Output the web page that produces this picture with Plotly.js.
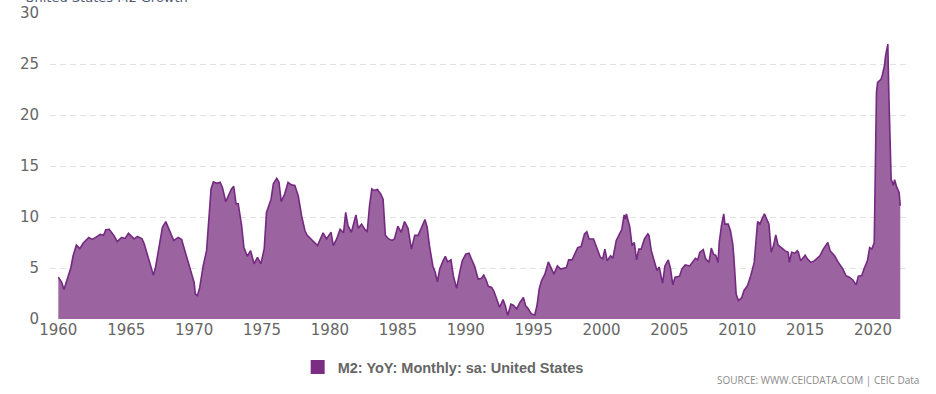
<!DOCTYPE html>
<html>
<head>
<meta charset="utf-8">
<script src="https://cdn.plot.ly/plotly-3.0.1.min.js"></script>
<style>
  html, body { margin: 0; padding: 0; background: #ffffff; }
  #chart { width: 936px; height: 394px; }
</style>
</head>
<body>
<div id="chart"></div>
<script>
// ---- Data ----
const seriesName = "M2: YoY: Monthly: sa: United States";
const chartTitle = "United States M2 Growth";
const sourceText = "SOURCE: WWW.CEICDATA.COM | CEIC Data";

const dates = [
  "1960-01","1960-04","1960-06","1960-10","1960-12","1961-02","1961-05","1961-08","1961-11",
  "1962-04","1962-07","1962-10","1963-02","1963-05","1963-07","1963-10","1964-02","1964-05",
  "1964-09","1964-12","1965-03","1965-08","1965-11","1966-03","1966-05","1966-08","1966-11",
  "1967-01","1967-03","1967-07","1967-09","1967-12","1968-03","1968-07","1968-11","1969-02",
  "1969-04","1969-07","1969-10","1970-01","1970-02","1970-04","1970-06","1970-09","1970-12",
  "1971-02","1971-04","1971-06","1971-09","1971-12","1972-02","1972-05","1972-07","1972-10",
  "1972-12","1973-02","1973-04","1973-07","1973-09","1973-12","1974-03","1974-06","1974-09",
  "1974-12","1975-03","1975-05","1975-09","1975-11","1976-02","1976-04","1976-06","1976-09",
  "1976-12","1977-03","1977-06","1977-09","1977-12","1978-03","1978-05","1978-08","1978-11",
  "1979-02","1979-04","1979-07","1979-10","1980-02","1980-04","1980-07","1980-10","1981-01",
  "1981-03","1981-05","1981-08","1981-10","1981-12","1982-02","1982-05","1982-08","1982-10",
  "1982-12","1983-02","1983-04","1983-07","1983-10","1983-12","1984-02","1984-05","1984-08",
  "1984-10","1985-01","1985-04","1985-07","1985-10","1986-01","1986-04","1986-07","1986-10",
  "1987-01","1987-03","1987-05","1987-08","1987-10","1987-12","1988-02","1988-05","1988-07",
  "1988-09","1988-12","1989-02","1989-05","1989-08","1989-10","1990-01","1990-04","1990-06",
  "1990-09","1990-12","1991-03","1991-05","1991-07","1991-09","1991-12","1992-02","1992-05",
  "1992-07","1992-10","1992-12","1993-02","1993-05","1993-07","1993-10","1994-01","1994-04",
  "1994-06","1994-08","1994-11","1995-02","1995-04","1995-06","1995-08","1995-11","1996-02",
  "1996-04","1996-07","1996-10","1997-01","1997-06","1997-08","1997-11","1998-01","1998-04",
  "1998-07","1998-10","1998-12","1999-02","1999-06","1999-09","1999-12","2000-02","2000-04",
  "2000-06","2000-09","2000-11","2001-02","2001-05","2001-07","2001-09","2001-10","2001-11",
  "2002-02","2002-04","2002-06","2002-08","2002-10","2002-12","2003-03","2003-06","2003-07",
  "2003-09","2003-12","2004-02","2004-04","2004-07","2004-09","2004-12","2005-02","2005-04",
  "2005-06","2005-10","2005-12","2006-03","2006-07","2006-10","2006-12","2007-02","2007-04",
  "2007-07","2007-09","2007-12","2008-02","2008-04","2008-06","2008-08","2008-09","2008-11",
  "2009-01","2009-02","2009-05","2009-07","2009-09","2009-10","2009-12","2010-02","2010-05",
  "2010-07","2010-10","2011-01","2011-04","2011-07","2011-09","2011-11","2012-01","2012-03",
  "2012-05","2012-07","2012-09","2012-11","2013-01","2013-04","2013-07","2013-10","2013-11",
  "2014-01","2014-04","2014-06","2014-07","2014-09","2015-01","2015-03","2015-06","2015-09",
  "2015-11","2016-02","2016-05","2016-08","2016-09","2016-11","2017-03","2017-06","2017-10",
  "2018-01","2018-04","2018-07","2018-10","2018-12","2019-03","2019-05","2019-08","2019-10",
  "2019-12","2020-02","2020-03","2020-04","2020-05","2020-08","2020-09","2020-11","2020-12",
  "2021-02","2021-03","2021-04","2021-05","2021-07","2021-08","2021-10","2021-12","2022-01"
];

const m2YoY = [
  4.1,3.6,2.9,4.2,5.0,6.2,7.25,6.9,7.45,
  8.0,7.8,8.0,8.3,8.2,8.75,8.8,8.2,7.6,
  8.0,7.9,8.4,7.85,8.1,7.85,7.35,6.2,4.9,
  4.3,5.1,8.0,9.0,9.55,8.8,7.7,8.0,7.8,
  7.0,5.9,4.6,3.6,2.45,2.3,3.1,5.2,6.7,
  10.1,12.75,13.45,13.3,13.4,12.9,11.5,12.0,12.75,
  13.0,11.3,11.3,9.15,7.0,6.15,6.7,5.4,6.05,
  5.4,6.9,10.45,11.75,13.25,13.8,13.4,11.5,12.25,
  13.4,13.15,13.1,12.1,10.1,8.65,8.2,7.85,7.5,
  7.2,7.7,8.45,7.85,8.5,7.2,7.85,8.8,8.45,
  10.45,9.15,8.5,9.3,10.2,8.9,9.3,8.75,8.6,
  11.1,12.75,12.6,12.7,12.25,11.75,8.2,7.85,7.7,
  7.85,9.1,8.5,9.55,8.9,6.85,8.2,8.2,8.9,
  9.75,9.0,7.2,5.2,4.6,3.65,4.9,5.7,6.15,
  5.6,5.8,4.25,3.0,4.75,5.7,6.35,6.45,5.9,
  5.15,3.9,4.0,4.3,3.85,3.2,3.1,2.7,1.65,
  1.15,1.9,1.3,0.35,1.45,1.35,1.0,1.65,2.1,
  1.3,1.05,0.5,0.4,1.3,2.95,3.75,4.4,5.6,
  5.05,4.4,5.2,4.9,5.05,5.8,5.8,6.35,7.0,
  7.1,8.35,8.55,7.85,7.85,6.85,6.05,5.9,6.85,
  5.7,6.2,5.95,7.7,8.35,8.8,10.2,9.8,10.3,
  9.0,7.2,7.5,5.8,6.85,6.85,7.85,8.35,8.2,
  6.7,5.4,4.75,5.1,3.5,5.2,5.8,4.9,3.35,
  4.1,4.2,4.9,5.3,5.2,5.7,5.95,5.8,6.55,
  6.8,5.9,5.55,6.95,6.35,6.25,5.55,7.5,9.15,
  10.3,9.3,9.3,8.65,7.35,6.05,2.45,1.8,2.1,
  2.8,3.25,4.3,5.55,9.55,9.3,9.85,10.3,9.8,
  9.3,6.55,7.2,8.25,7.25,7.0,6.7,6.55,5.55,
  6.55,6.45,6.7,6.55,5.7,6.25,5.9,5.55,5.7,
  5.9,6.2,6.85,7.25,7.5,6.7,6.2,5.6,4.95,
  4.25,4.1,3.85,3.35,4.2,4.25,4.9,5.7,7.0,
  6.85,7.5,14.7,22.2,23.2,23.5,23.85,24.8,25.8,
  26.95,21.9,17.0,13.7,13.1,13.65,12.9,12.4,11.1
];

const yTicks = [0, 5, 10, 15, 20, 25, 30];

// ---- Chart ----
const areaTrace = {
  type: "scatter",
  mode: "lines",
  x: dates,
  y: m2YoY,
  fill: "tozeroy",
  fillcolor: "#9b63a0",
  line: { color: "#742a80", width: 1.6, shape: "linear" },
  showlegend: false,
  hoverinfo: "x+y"
};

const legendTrace = {
  type: "scatter",
  mode: "markers",
  x: [null],
  y: [null],
  name: seriesName,
  marker: { symbol: "square", size: 14, color: "#7b2d84" },
  showlegend: true
};

const layout = {
  width: 936,
  height: 394,
  margin: { l: 50, r: 26, t: 13, b: 74 },
  paper_bgcolor: "#ffffff",
  plot_bgcolor: "#ffffff",
  font: { family: "DejaVu Sans, sans-serif", color: "#666666" },
  xaxis: {
    type: "date",
    range: ["1959-05-22", "2022-09-20"],
    tick0: "1960-01-01",
    dtick: "M60",
    tickformat: "%Y",
    showgrid: false,
    zeroline: false,
    showline: false,
    ticks: "",
    tickfont: { family: "DejaVu Sans, sans-serif", size: 15, color: "#666666" },
    fixedrange: true
  },
  yaxis: {
    range: [0, 30],
    tickvals: yTicks,
    ticktext: yTicks.map(String),
    showgrid: true,
    gridcolor: "#e2e2e2",
    gridwidth: 1,
    griddash: "6px,4px",
    zeroline: false,
    showline: false,
    ticks: "",
    ticklabelstandoff: 10,
    tickfont: { family: "DejaVu Sans, sans-serif", size: 15, color: "#666666" },
    fixedrange: true
  },
  showlegend: true,
  legend: {
    orientation: "h",
    x: 0.288,
    xanchor: "left",
    y: -0.101,
    yanchor: "top",
    font: { family: "Liberation Sans, Arial, sans-serif", size: 14.5, color: "#666666", weight: "bold" },
    bgcolor: "rgba(0,0,0,0)",
    itemwidth: 30
  },
  annotations: [
    {
      xref: "paper", yref: "paper",
      x: -0.0314, y: 1.0195,
      xanchor: "left", yanchor: "bottom",
      text: chartTitle,
      showarrow: false,
      font: { family: "DejaVu Sans, sans-serif", size: 13, color: "#4d5773" }
    },
    {
      xref: "paper", yref: "paper",
      x: 1.0128, y: -0.2,
      xanchor: "right", yanchor: "middle",
      text: sourceText,
      showarrow: false,
      font: { family: "Open Sans, sans-serif", size: 10, color: "#8a8a8a" }
    }
  ]
};

Plotly.newPlot("chart", [areaTrace, legendTrace], layout, { displayModeBar: false, staticPlot: true });
</script>
</body>
</html>
